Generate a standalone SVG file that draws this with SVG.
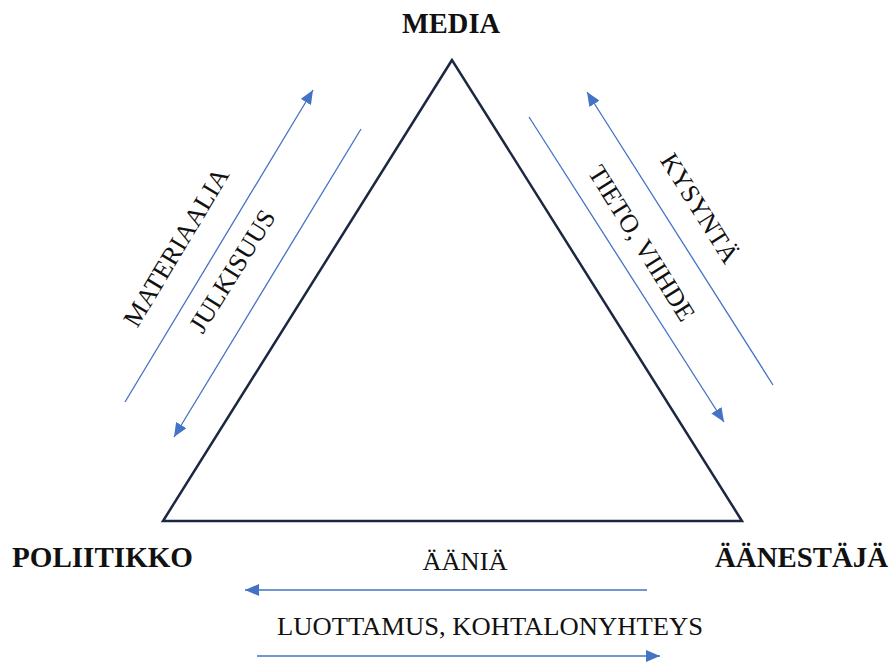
<svg xmlns="http://www.w3.org/2000/svg" width="889" height="662" viewBox="0 0 889 662">
<style>
text{font-family:"Times New Roman","Liberation Serif",Tinos,"DejaVu Serif",serif;fill:#111;}
.b{font-weight:bold;font-size:29px;}
.r{font-size:26px;}
.arr{stroke:#4472c4;stroke-width:1.3;fill:none;marker-end:url(#ah);}
</style>
<defs>
<marker id="ah" markerUnits="userSpaceOnUse" markerWidth="16" markerHeight="12" refX="14" refY="6" orient="auto">
<path d="M0,0 L14,6 L0,12 z" fill="#4472c4"/>
</marker>
</defs>
<rect width="889" height="662" fill="#fff"/>
<g id="triangle">
<polygon points="452,60 163,521 742,521" fill="none" stroke="#1c2741" stroke-width="2.5" stroke-linejoin="miter"/>
</g>
<g id="media"><text class="b" x="451" y="33" text-anchor="middle" textLength="98" lengthAdjust="spacingAndGlyphs">MEDIA</text></g>
<g id="poliitikko"><text class="b" x="12" y="567" textLength="181" lengthAdjust="spacingAndGlyphs">POLIITIKKO</text></g>
<g id="aanestaja"><text class="b" x="715" y="567" textLength="173" lengthAdjust="spacingAndGlyphs">ÄÄNESTÄJÄ</text></g>
<g id="connectors">
<line class="arr" x1="125" y1="402" x2="313" y2="90"/>
<line class="arr" x1="361" y1="129" x2="174" y2="437"/>
<line class="arr" x1="773" y1="385" x2="587" y2="92"/>
<line class="arr" x1="529" y1="117" x2="724" y2="422"/>
<line class="arr" x1="647" y1="590" x2="245" y2="590"/>
<line class="arr" x1="257" y1="656" x2="660" y2="656"/>
</g>
<g id="labels">
<text class="r" transform="translate(176,247) rotate(-59)" y="9" text-anchor="middle" textLength="180" lengthAdjust="spacingAndGlyphs">MATERIAALIA</text>
<text class="r" transform="translate(232,271) rotate(-58)" y="9" text-anchor="middle" textLength="139" lengthAdjust="spacingAndGlyphs">JULKISUUS</text>
<text class="r" transform="translate(700,208) rotate(58)" y="9" text-anchor="middle" textLength="124" lengthAdjust="spacingAndGlyphs">KYSYNTÄ</text>
<text class="r" transform="translate(642,243) rotate(58)" y="9" text-anchor="middle" textLength="178" lengthAdjust="spacingAndGlyphs">TIETO, VIIHDE</text>
<text class="r" x="465" y="570" text-anchor="middle" textLength="85" lengthAdjust="spacingAndGlyphs">ÄÄNIÄ</text>
<text class="r" x="490" y="635" text-anchor="middle" textLength="426" lengthAdjust="spacingAndGlyphs">LUOTTAMUS, KOHTALONYHTEYS</text>
</g>
</svg>
